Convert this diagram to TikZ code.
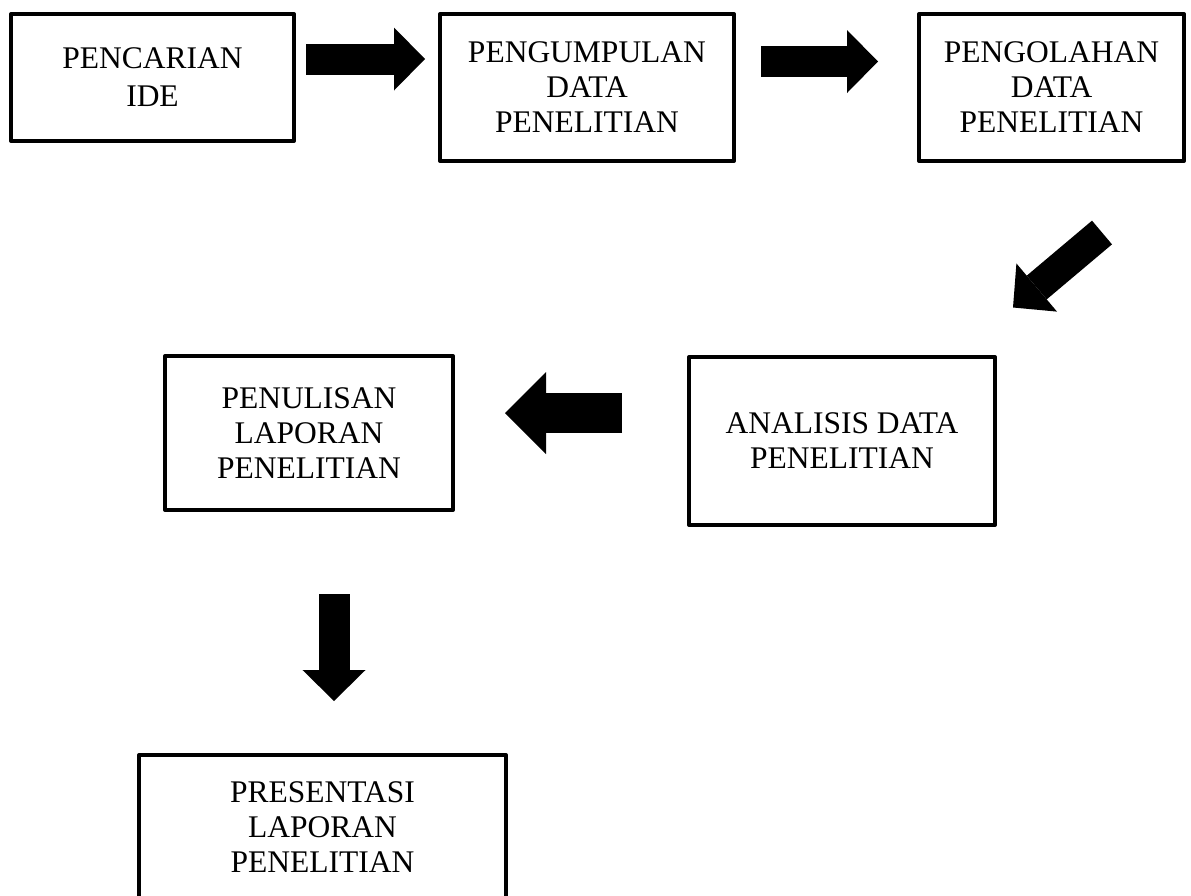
\documentclass[tikz,border=0pt]{standalone}
\usepackage{fontspec}
\setmainfont{Liberation Serif}
\usetikzlibrary{arrows.meta}
\tikzset{
  stepbox/.style={
    rectangle, draw, line width=4pt, line join=round,
    inner sep=0pt, align=center,
    font=\fontsize{31.5}{35}\selectfont
  },
  bigarrow/.style={line width=31pt, -{Triangle[length=31pt,width=63pt,line width=0pt]}},
  widearrow/.style={line width=40pt, -{Triangle[length=41pt,width=82pt,line width=0pt]}}
}
\begin{document}
\begin{tikzpicture}[x=1pt, y=-1pt]
\useasboundingbox (0,0) rectangle (1191,895);

% Top row
\node[stepbox, minimum width=283, minimum height=127] (ide) at (152.5,77.5) {PENCARIAN\\[3pt]IDE};
\node[stepbox, minimum width=294, minimum height=147] (kumpul) at (587,87.5) {PENGUMPULAN\\DATA\\PENELITIAN};
\node[stepbox, minimum width=265, minimum height=147] (olah) at (1051.5,87.5) {PENGOLAHAN\\DATA\\PENELITIAN};
\draw[bigarrow] ([shift={(10,-18.5)}]ide.east) -- ([shift={(-13,-28.5)}]kumpul.west);
\draw[bigarrow] ([shift={(25,-26)}]kumpul.east) -- ([shift={(-39,-26)}]olah.west);

% Middle row
\node[stepbox, minimum width=306, minimum height=168] (analisis) at (842,441) {ANALISIS DATA\\PENELITIAN};
\node[stepbox, minimum width=288, minimum height=154] (tulis) at (309,433) {PENULISAN\\LAPORAN\\PENELITIAN};
\draw[bigarrow] ([shift={(50.5,69.5)}]olah.south) -- ([shift={(16,-47.5)}]analisis.north east);
\draw[widearrow] ([shift={(-65,-28)}]analisis.west) -- ([shift={(50,-20)}]tulis.east);

% Bottom
\node[stepbox, minimum width=367, minimum height=144] (presentasi) at (322.5,827) {PRESENTASI\\LAPORAN\\PENELITIAN};
\draw[bigarrow] ([shift={(25,82)}]tulis.south) -- ([shift={(11.5,-52)}]presentasi.north);

\end{tikzpicture}
\end{document}
